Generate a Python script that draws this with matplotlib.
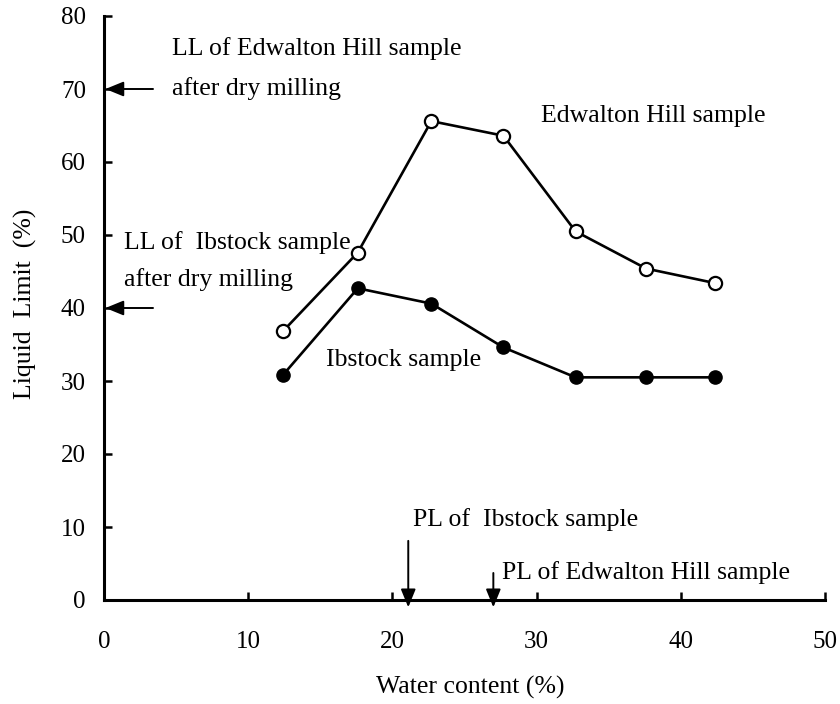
import matplotlib
matplotlib.use("Agg")
import matplotlib.pyplot as plt

plt.rcParams['font.family'] = ['Liberation Serif', 'DejaVu Serif']

water = [12.4, 17.6, 22.7, 27.7, 32.7, 37.6, 42.4]
edwalton = [36.8, 47.6, 65.6, 63.6, 50.5, 45.4, 43.4]
ibstock = [30.8, 42.7, 40.6, 34.6, 30.5, 30.5, 30.5]

ll_edwalton_dry = 70
ll_ibstock_dry = 40
pl_ibstock = 21.1
pl_edwalton = 27.0

xticks = [0, 10, 20, 30, 40, 50]
yticks = [0, 10, 20, 30, 40, 50, 60, 70, 80]

fig = plt.figure(figsize=(8.4, 7.04), dpi=100)
ax = fig.add_axes([104/840, 1-600/704, (825-104)/840, (600-16)/704])

ax.plot(water, edwalton, '-o', color='black', lw=1.9, ms=9.5,
        mfc='white', mec='black', mew=1.6, zorder=3)
ax.plot(water, ibstock, '-o', color='black', lw=1.9, ms=9.5,
        mfc='black', mec='black', zorder=3)

ax.set_xlim(0, 50)
ax.set_ylim(0, 80)
ax.set_xticks(xticks)
ax.set_yticks(yticks)
ax.tick_params(axis='both', direction='in', length=6, width=1.8, labelsize=18)
ax.tick_params(axis='x', pad=22)
ax.tick_params(axis='y', pad=13)
ax.spines['top'].set_visible(False)
ax.spines['right'].set_visible(False)
ax.spines['left'].set_linewidth(2.2)
ax.spines['bottom'].set_linewidth(2.2)

fs = 18.5
ax.text(4.75, 75.6, 'LL of Edwalton Hill sample', fontsize=fs, va='center', ha='left')
ax.text(4.75, 70.1, 'after dry milling', fontsize=fs, va='center', ha='left')
ax.text(1.4, 49.0, 'LL of  Ibstock sample', fontsize=fs, va='center', ha='left')
ax.text(1.4, 43.9, 'after dry milling', fontsize=fs, va='center', ha='left')
ax.text(30.3, 66.3, 'Edwalton Hill sample', fontsize=fs, va='center', ha='left')
ax.text(15.4, 32.9, 'Ibstock sample', fontsize=fs, va='center', ha='left')
ax.text(21.4, 11.0, 'PL of  Ibstock sample', fontsize=fs, va='center', ha='left')
ax.text(27.6, 3.8, 'PL of Edwalton Hill sample', fontsize=fs, va='center', ha='left')

aprops = dict(arrowstyle='-|>,head_length=1.1,head_width=0.45', color='black', lw=1.4,
              shrinkA=0, shrinkB=0)
ax.annotate('', xy=(0.1, ll_edwalton_dry), xytext=(3.4, ll_edwalton_dry), arrowprops=aprops, annotation_clip=False)
ax.annotate('', xy=(0.1, ll_ibstock_dry), xytext=(3.4, ll_ibstock_dry), arrowprops=aprops, annotation_clip=False)
ax.annotate('', xy=(pl_ibstock, -1.0), xytext=(pl_ibstock, 8.1), arrowprops=aprops, annotation_clip=False)
ax.annotate('', xy=(pl_edwalton, -1.0), xytext=(pl_edwalton, 3.7), arrowprops=aprops, annotation_clip=False)

fig.text(470/840, 1-687/704, 'Water content (%)', fontsize=18.5, ha='center', va='center')
fig.text(25/840, 1-304/704, 'Liquid  Limit  (%)', fontsize=18.5, ha='center', va='center', rotation=90)

fig.savefig('out.png', dpi=100)
